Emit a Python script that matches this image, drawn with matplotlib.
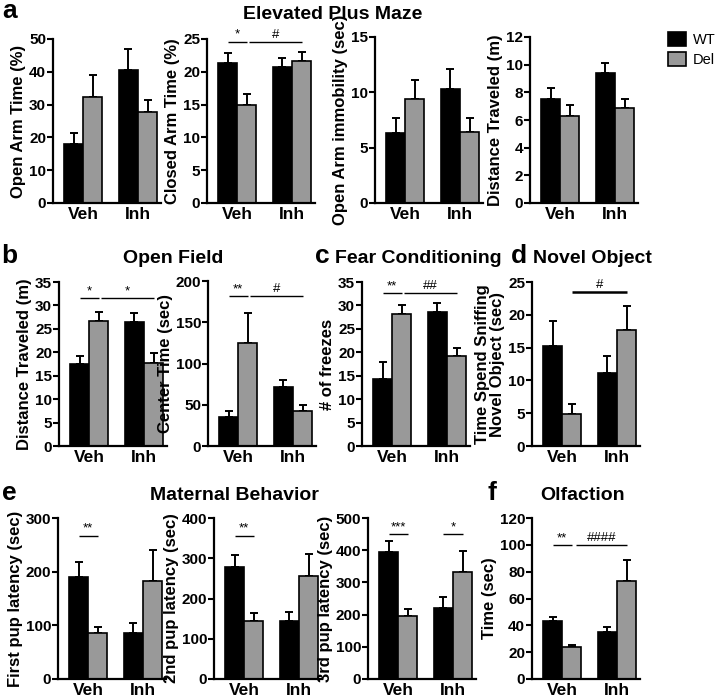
import numpy as np
import matplotlib
matplotlib.use('Agg')
import matplotlib.pyplot as plt
from matplotlib.patches import Patch

plt.rcParams['font.family'] = ['Liberation Sans', 'DejaVu Sans']

# ---------------- data (order: WT-Veh, Del-Veh, WT-Inh, Del-Inh) ----------------
groups = ['Veh', 'Inh']
genotypes = ['WT', 'Del']

open_arm_time_mean = [18.0, 32.4, 40.5, 27.6]
open_arm_time_sem = [3.4, 6.7, 6.4, 3.8]
closed_arm_time_mean = [21.4, 14.9, 20.7, 21.6]
closed_arm_time_sem = [1.5, 1.7, 1.35, 1.4]
open_arm_immob_mean = [6.3, 9.4, 10.3, 6.4]
open_arm_immob_sem = [1.4, 1.7, 1.8, 1.3]
epm_distance_mean = [7.5, 6.3, 9.4, 6.9]
epm_distance_sem = [0.8, 0.8, 0.7, 0.6]

of_distance_mean = [17.6, 26.6, 26.5, 17.7]
of_distance_sem = [1.6, 2.0, 1.8, 2.1]
center_time_mean = [35.5, 125.0, 71.0, 42.0]
center_time_sem = [6.5, 36.0, 9.5, 8.0]

freezes_mean = [14.2, 28.2, 28.7, 19.2]
freezes_sem = [3.8, 1.9, 1.9, 1.8]

novel_object_mean = [15.3, 4.95, 11.1, 17.7]
novel_object_sem = [3.7, 1.4, 2.6, 3.7]

first_pup_mean = [190.0, 86.0, 86.0, 182.0]
first_pup_sem = [28.0, 10.0, 19.0, 59.0]
second_pup_mean = [278.0, 145.0, 145.0, 256.0]
second_pup_sem = [31.0, 18.0, 22.0, 54.0]
third_pup_mean = [394.0, 196.0, 221.0, 332.0]
third_pup_sem = [34.0, 21.0, 34.0, 66.0]

olfaction_mean = [43.2, 23.7, 35.3, 73.3]
olfaction_sem = [3.2, 2.0, 3.7, 15.6]

# significance annotations: (x_start, x_end, y, label, linewidth)
closed_arm_sig = [(-0.175, 0.175, 24.6, '*', 1.0), (0.22, 1.175, 24.6, '#', 1.0)]
of_distance_sig = [(-0.175, 0.175, 31.6, '*', 1.0), (0.22, 1.175, 31.6, '*', 1.0)]
center_time_sig = [(-0.175, 0.175, 182, '**', 1.0), (0.22, 1.175, 182, '#', 1.0)]
freezes_sig = [(-0.175, 0.175, 32.6, '**', 1.0), (0.22, 1.175, 32.6, '##', 1.0)]
novel_object_sig = [(0.175, 1.175, 23.5, '#', 1.8)]
first_pup_sig = [(-0.175, 0.175, 267, '**', 1.0)]
second_pup_sig = [(-0.175, 0.175, 356, '**', 1.0)]
third_pup_sig = [(-0.175, 0.175, 451, '***', 1.0), (0.825, 1.175, 451, '*', 1.0)]
olfaction_sig = [(-0.175, 0.175, 100, '**', 1.0), (0.25, 1.175, 100, '####', 1.0)]

# ---------------- figure ----------------
W, H = 720, 698
fig = plt.figure(figsize=(W / 100, H / 100), dpi=100)
GRAY = '#999999'
BW = 0.35


def make_ax(left, top, bottom, width=108):
    return fig.add_axes([left / W, 1 - bottom / H, width / W, (bottom - top) / H])


def draw(ax, means, sems, ymax, ystep, ylabel, sig=()):
    x = np.arange(len(groups))
    wt_m, del_m = means[0::2], means[1::2]
    wt_s, del_s = sems[0::2], sems[1::2]
    ax.bar(x - BW / 2, wt_m, BW, color='black', edgecolor='black', linewidth=1.2, zorder=2)
    ax.bar(x + BW / 2, del_m, BW, color=GRAY, edgecolor='black', linewidth=1.2, zorder=2)
    for xs, m, s in ((x - BW / 2, wt_m, wt_s), (x + BW / 2, del_m, del_s)):
        ax.errorbar(xs, m, yerr=[np.zeros(len(s)), s], fmt='none', ecolor='black',
                    elinewidth=1.4, capsize=3.2, capthick=1.4, zorder=1)
    ax.set_xlim(-0.55, 1.42)
    ax.set_ylim(0, ymax)
    ticks = np.arange(0, ymax + ystep / 2, ystep)
    ax.set_yticks(ticks)
    ax.set_yticklabels([f'{v:g}' for v in ticks], fontsize=11, fontweight='bold')
    ax.set_xticks(x)
    ax.set_xticklabels(groups, fontsize=12.5, fontweight='bold')
    ax.tick_params(axis='x', length=0, pad=3)
    ax.tick_params(axis='y', length=4, width=1.5, pad=1)
    for s in ('top', 'right'):
        ax.spines[s].set_visible(False)
    for s in ('left', 'bottom'):
        ax.spines[s].set_linewidth(1.6)
    ax.set_ylabel(ylabel, fontsize=12, fontweight='bold', labelpad=2, linespacing=1.0)
    for x0, x1, y, txt, lw in sig:
        ax.plot([x0, x1], [y, y], color='black', lw=lw, clip_on=False, solid_capstyle='butt')
        ax.text((x0 + x1) / 2, y + ymax * 0.005, txt, ha='center', va='bottom', fontsize=9.5)


# Row a
draw(make_ax(53, 39, 203), open_arm_time_mean, open_arm_time_sem, 50, 10, 'Open Arm Time (%)')
draw(make_ax(207, 39, 203), closed_arm_time_mean, closed_arm_time_sem, 25, 5, 'Closed Arm Time (%)', closed_arm_sig)
draw(make_ax(375, 37, 203), open_arm_immob_mean, open_arm_immob_sem, 15, 5, 'Open Arm immobility (sec)')
draw(make_ax(530, 37, 203), epm_distance_mean, epm_distance_sem, 12, 2, 'Distance Traveled (m)')

# Row b/c/d
draw(make_ax(59, 282, 446), of_distance_mean, of_distance_sem, 35, 5, 'Distance Traveled (m)', of_distance_sig)
draw(make_ax(208, 281, 446), center_time_mean, center_time_sem, 200, 50, 'Center Time (sec)', center_time_sig)
draw(make_ax(362, 282, 446), freezes_mean, freezes_sem, 35, 5, '# of freezes', freezes_sig)
draw(make_ax(532, 282, 446), novel_object_mean, novel_object_sem, 25, 5,
     'Time Spend Sniffing\nNovel Object (sec)', novel_object_sig)

# Row e/f
draw(make_ax(58, 518, 679), first_pup_mean, first_pup_sem, 300, 100, 'First pup latency (sec)', first_pup_sig)
draw(make_ax(214, 518, 679), second_pup_mean, second_pup_sem, 400, 100, '2nd pup latency (sec)', second_pup_sig)
draw(make_ax(368, 518, 679), third_pup_mean, third_pup_sem, 500, 100, '3rd pup latency (sec)', third_pup_sig)
draw(make_ax(532, 518, 679), olfaction_mean, olfaction_sem, 120, 20, 'Time (sec)', olfaction_sig)


# titles & panel letters (pixel coords, baseline)
def ftext(x, y, s, size, ha='center'):
    fig.text(x / W, 1 - y / H, s, fontsize=size, fontweight='bold', ha=ha, va='baseline')


ftext(333, 19, 'Elevated Plus Maze', 14)
ftext(2, 18, 'a', 19, ha='left')
ftext(1, 263, 'b', 19, ha='left')
ftext(173, 263, 'Open Field', 14)
ftext(315, 263, 'c', 19, ha='left')
ftext(418, 263, 'Fear Conditioning', 14)
ftext(511, 263, 'd', 19, ha='left')
ftext(592, 263, 'Novel Object', 14)
ftext(2, 500, 'e', 19, ha='left')
ftext(234, 500, 'Maternal Behavior', 14)
ftext(487, 500, 'f', 19, ha='left')
ftext(583, 500, 'Olfaction', 14)

# legend
handles = [Patch(facecolor='black', edgecolor='black', linewidth=1.2),
           Patch(facecolor=GRAY, edgecolor='black', linewidth=1.2)]
fig.legend(handles, genotypes, loc='upper left', bbox_to_anchor=(664 / W, 1 - 28 / H),
           frameon=False, fontsize=10.5, handlelength=1.2, handleheight=1.1,
           handletextpad=0.5, labelspacing=0.3, borderaxespad=0, borderpad=0.3)

fig.savefig('out.png', dpi=100)
